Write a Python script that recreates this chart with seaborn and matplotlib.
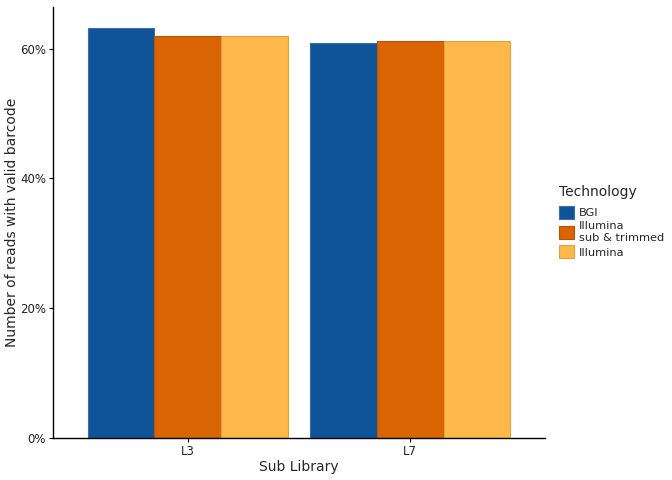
import matplotlib
matplotlib.use("Agg")
import matplotlib.pyplot as plt
import seaborn as sns
import pandas as pd
from matplotlib.patches import Patch
from matplotlib.ticker import FuncFormatter

libraries = ["L3", "L7"]
technologies = ["BGI", "Illumina\nsub & trimmed", "Illumina"]
bgi = [63.2, 60.9]
illumina_sub = [62.0, 61.2]
illumina = [62.0, 61.2]
colors = ["#0F5499", "#D86403", "#FFB84A"]
edges = ["#3A6FA8", "#B55405", "#E0A040"]

rows = []
for tech, vals in zip(technologies, [bgi, illumina_sub, illumina]):
    for lib, v in zip(libraries, vals):
        rows.append({"Sub Library": lib, "Technology": tech, "pct": v})
df = pd.DataFrame(rows)

sns.set_style("ticks")
plt.rcParams["font.family"] = ["DejaVu Sans"]

fig = plt.figure(figsize=(6.72, 4.8), dpi=100)
ax = fig.add_axes([53/672, 42/480, (545-53)/672, (438-7)/480])

sns.barplot(data=df, x="Sub Library", y="pct", hue="Technology",
            hue_order=technologies, order=libraries, palette=colors,
            saturation=1, width=0.9, ax=ax, errorbar=None, legend=False)

for i, container in enumerate(ax.containers):
    for bar in container:
        bar.set_edgecolor(edges[i])
        bar.set_linewidth(0.8)

ax.set_xlim(-0.605, 1.605)
ax.set_ylim(0, 66.4)
ax.set_yticks([0, 20, 40, 60])
ax.yaxis.set_major_formatter(FuncFormatter(lambda v, p: f"{int(v)}%"))
ax.set_xlabel("Sub Library", fontsize=10, labelpad=1.5)
ax.set_ylabel("Number of reads with valid barcode", fontsize=10, labelpad=1)
ax.tick_params(axis="both", labelsize=8.5, length=3, width=0.8, colors="black", pad=2)
ax.tick_params(axis="both", labelcolor="#222222")
for s in ["top", "right"]:
    ax.spines[s].set_visible(False)
for s in ["left", "bottom"]:
    ax.spines[s].set_color("black")
    ax.spines[s].set_linewidth(1.0)

handles = [Patch(facecolor=c, edgecolor=e, linewidth=0.8) for c, e in zip(colors, edges)]
leg = fig.legend(handles, technologies, title="Technology", loc="upper left",
                 bbox_to_anchor=(559/672, 1 - 185/480), frameon=False,
                 fontsize=8.2, title_fontsize=10, handlelength=1.3, handleheight=1.4,
                 handletextpad=0.45, labelspacing=0.2, borderaxespad=0, borderpad=0)
leg._legend_box.align = "left"
leg._legend_box.sep = 5

fig.savefig("out.png", dpi=100)
